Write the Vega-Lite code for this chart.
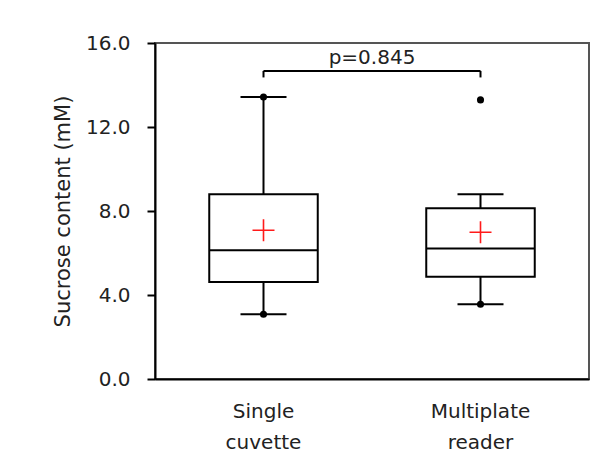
{
  "$schema": "https://vega.github.io/schema/vega-lite/v6.json",
  "width": 434,
  "height": 336,
  "autosize": "none",
  "padding": {"left": 155, "top": 43, "right": 14, "bottom": 83},
  "background": "white",
  "config": {
    "view": {"stroke": "#555555", "strokeWidth": 2},
    "font": "DejaVu Sans"
  },
  "datasets": {
    "stats": [
      {"method": "Single cuvette", "lower": 3.08, "q1": 4.62, "median": 6.13, "q3": 8.8, "upper": 13.43, "mean": 7.08},
      {"method": "Multiplate reader", "lower": 3.56, "q1": 4.87, "median": 6.22, "q3": 8.13, "upper": 8.8, "mean": 6.99}
    ],
    "dots": [
      {"method": "Single cuvette", "value": 13.43},
      {"method": "Single cuvette", "value": 3.08},
      {"method": "Multiplate reader", "value": 13.29},
      {"method": "Multiplate reader", "value": 3.56}
    ],
    "bracket": [
      {"from": "Single cuvette", "to": "Multiplate reader", "top": 14.67}
    ],
    "feet": [
      {"method": "Single cuvette", "top": 14.67, "foot": 14.36},
      {"method": "Multiplate reader", "top": 14.67, "foot": 14.36}
    ],
    "pval": [
      {"method": "Multiplate reader", "y": 15.02, "label": "p=0.845"}
    ]
  },
  "layer": [
    {
      "data": {"name": "stats"},
      "mark": {"type": "rule", "color": "black", "strokeWidth": 2},
      "encoding": {
        "x": {
          "field": "method", "type": "nominal",
          "scale": {"type": "band", "domain": ["Single cuvette", "Multiplate reader"], "paddingInner": 0, "paddingOuter": 0},
          "axis": {
            "title": null, "ticks": false, "labelAngle": 0, "labelPadding": 22,
            "labelFontSize": 20, "labelColor": "#222222", "labelLineHeight": 31,
            "labelExpr": "split(datum.label, ' ')",
            "domainColor": "black", "domainWidth": 2, "grid": false
          }
        },
        "y": {
          "field": "lower", "type": "quantitative",
          "scale": {"domain": [0, 16], "nice": false, "zero": true},
          "axis": {
            "title": "Sucrose content (mM)", "titleFontSize": 21, "titleFontWeight": "normal",
            "titleColor": "#222222", "titlePadding": 12,
            "values": [0, 4, 8, 12, 16], "format": ".1f",
            "tickSize": 8, "tickColor": "black", "tickWidth": 2,
            "labelPadding": 17, "labelFontSize": 20, "labelColor": "#222222",
            "domainColor": "black", "domainWidth": 2, "grid": false
          }
        },
        "y2": {"field": "upper"}
      }
    },
    {
      "data": {"name": "stats"},
      "mark": {"type": "bar", "fill": "white", "stroke": "black", "strokeWidth": 2, "width": {"band": 0.5}, "opacity": 1},
      "encoding": {
        "x": {"field": "method", "type": "nominal"},
        "y": {"field": "q1", "type": "quantitative"},
        "y2": {"field": "q3"}
      }
    },
    {
      "data": {"name": "stats"},
      "mark": {"type": "tick", "color": "black", "size": 109, "thickness": 2, "opacity": 1},
      "encoding": {
        "x": {"field": "method", "type": "nominal"},
        "y": {"field": "median", "type": "quantitative"}
      }
    },
    {
      "data": {"name": "stats"},
      "mark": {"type": "tick", "color": "black", "size": 46, "thickness": 2, "opacity": 1},
      "encoding": {
        "x": {"field": "method", "type": "nominal"},
        "y": {"field": "lower", "type": "quantitative"}
      }
    },
    {
      "data": {"name": "stats"},
      "mark": {"type": "tick", "color": "black", "size": 46, "thickness": 2, "opacity": 1},
      "encoding": {
        "x": {"field": "method", "type": "nominal"},
        "y": {"field": "upper", "type": "quantitative"}
      }
    },
    {
      "data": {"name": "dots"},
      "mark": {"type": "point", "shape": "circle", "filled": true, "color": "black", "size": 50, "opacity": 1},
      "encoding": {
        "x": {"field": "method", "type": "nominal"},
        "y": {"field": "value", "type": "quantitative"}
      }
    },
    {
      "data": {"name": "stats"},
      "mark": {"type": "point", "shape": "M-1,0L1,0M0,-1L0,1", "filled": false, "stroke": "#ff1a1a", "strokeWidth": 1.6, "size": 484, "opacity": 1},
      "encoding": {
        "x": {"field": "method", "type": "nominal"},
        "y": {"field": "mean", "type": "quantitative"}
      }
    },
    {
      "data": {"name": "bracket"},
      "mark": {"type": "rule", "color": "black", "strokeWidth": 2},
      "encoding": {
        "x": {"field": "from", "type": "nominal"},
        "x2": {"field": "to"},
        "y": {"field": "top", "type": "quantitative"}
      }
    },
    {
      "data": {"name": "feet"},
      "mark": {"type": "rule", "color": "black", "strokeWidth": 2},
      "encoding": {
        "x": {"field": "method", "type": "nominal"},
        "y": {"field": "top", "type": "quantitative"},
        "y2": {"field": "foot"}
      }
    },
    {
      "data": {"name": "pval"},
      "mark": {"type": "text", "fontSize": 20, "color": "#222222", "align": "center", "baseline": "alphabetic"},
      "encoding": {
        "x": {"field": "method", "type": "nominal", "bandPosition": 0},
        "y": {"field": "y", "type": "quantitative"},
        "text": {"field": "label"}
      }
    }
  ]
}
